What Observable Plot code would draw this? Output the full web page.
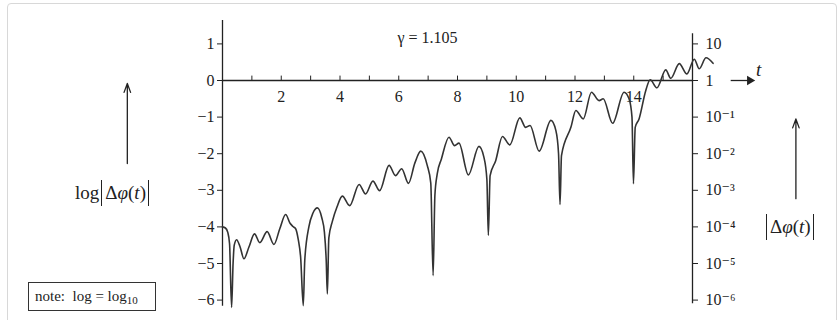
<!DOCTYPE html>
<html>
<head>
<meta charset="utf-8">
<script src="https://cdn.jsdelivr.net/npm/d3@7"></script>
<script src="https://cdn.jsdelivr.net/npm/@observablehq/plot@0.6"></script>
<style>
  html, body { margin: 0; padding: 0; background: #fff; }
  #wrap { position: relative; width: 840px; height: 320px; overflow: hidden; font-family: "Liberation Serif", "DejaVu Serif", serif; color: #222; }
  #card { position: absolute; left: 7px; top: 3px; right: 3px; bottom: -20px; border: 1px solid #d8d8d8; border-radius: 4px; }
  #chart { position: absolute; left: 0; top: 0; }
  #chart svg, #chart svg text { font-family: "Liberation Serif", "DejaVu Serif", serif !important; }
  .lbl { position: absolute; white-space: nowrap; font-size: 19px; line-height: 19px; }
  .bar { display: inline-block; width: 0; height: 26px; border-left: 1.3px solid #222; vertical-align: -7px; margin: 0 3px 0 2px; }
  #note { position: absolute; left: 28px; top: 282px; width: 126px; height: 27px; border: 1.5px solid #333; font-size: 15px; line-height: 27px; }
  #note span.t { position: absolute; left: 6px; top: 0; }
  sub { font-size: 11px; vertical-align: -3px; }
</style>
</head>
<body>
<div id="wrap">
  <div id="card"></div>
  <div id="chart"></div>
  <div class="lbl" style="left:75px; top:180px;">log<span class="bar"></span>Δ<i>φ</i>(<i>t</i>)<span class="bar"></span></div>
  <div class="lbl" style="left:764px; top:214px;"><span class="bar"></span>Δ<i>φ</i>(<i>t</i>)<span class="bar"></span></div>
  <div id="note"><span class="t">note:&nbsp; log = log<sub>10</sub></span></div>
</div>
<script>
// ---- data ----
const tValues = [
  0.00, 0.10, 0.18, 0.24, 0.31, 0.36, 0.40, 0.48, 0.60, 0.73,
  0.90, 1.09, 1.27, 1.52, 1.75, 1.95, 2.15, 2.30, 2.40, 2.49,
  2.58, 2.66, 2.75, 2.80, 2.94, 3.08, 3.23, 3.38, 3.47, 3.53,
  3.57, 3.62, 3.74, 3.90, 4.08, 4.33, 4.65, 4.87, 5.12, 5.35,
  5.67, 5.89, 6.10, 6.33, 6.55, 6.75, 6.97, 7.09, 7.17, 7.23,
  7.31, 7.45, 7.71, 7.90, 8.05, 8.37, 8.73, 8.90, 9.00, 9.05,
  9.11, 9.30, 9.53, 9.78, 10.12, 10.32, 10.47, 10.78, 11.18, 11.35,
  11.44, 11.49, 11.54, 11.86, 12.03, 12.28, 12.56, 12.82, 12.96, 13.28,
  13.67, 13.84, 13.94, 13.99, 14.05, 14.18, 14.41, 14.56, 14.79, 15.09,
  15.26, 15.55, 15.81, 16.06, 16.23, 16.46, 16.70
];
const logDeltaPhi = [
  -4.00, -4.03, -4.15, -4.46, -6.20, -5.00, -4.50, -4.35, -4.55, -4.87,
  -4.55, -4.19, -4.43, -4.13, -4.48, -4.05, -3.66, -3.90, -3.99, -4.05,
  -4.35, -4.83, -6.15, -4.92, -4.00, -3.62, -3.48, -3.75, -4.15, -4.90,
  -5.83, -4.30, -3.85, -3.45, -3.16, -3.42, -2.84, -3.10, -2.75, -3.01,
  -2.32, -2.60, -2.41, -2.81, -2.25, -1.93, -2.32, -2.80, -5.33, -3.14,
  -2.55, -2.15, -1.55, -1.78, -1.71, -2.58, -1.80, -2.10, -2.70, -4.23,
  -2.60, -2.19, -1.53, -1.76, -1.02, -1.28, -1.23, -1.93, -1.09, -1.37,
  -2.00, -3.39, -2.05, -1.28, -0.82, -1.05, -0.32, -0.55, -0.50, -1.17,
  -0.32, -0.50, -1.00, -2.82, -1.28, -1.05, -0.27, 0.02, -0.20, 0.29,
  0.06, 0.46, 0.18, 0.58, 0.32, 0.62, 0.47
];
const xMinorTicks = [1, 2, 3, 4, 5, 6, 7, 8, 9, 10, 11, 12, 13, 14, 15];
const xTickLabels = [2, 4, 6, 8, 10, 12, 14];
const yTicks = [-6, -5, -4, -3, -2, -1, 0, 1];
const rightTickLabels = ["10\u207B\u2076", "10\u207B\u2075", "10\u207B\u2074", "10\u207B\u00B3", "10\u207B\u00B2", "10\u207B\u00B9", "1", "10"];
const titleText = "\u03B3 = 1.105";

// annotation anchors (in data units)
const leftAxisSpan = [{y1: -6.17, y2: 1.64}];
const rightAxisSpan = [{y1: -6.10, y2: 1.28}];
const titleAnchor = [{t: 6.98, v: 1.17, text: titleText}];
const tAxisArrow = [{x1: 17.3, x2: 17.95, y: 0}];
const tLabel = [{t: 18.25, v: 0.30, text: "t"}];
const upArrows = [
  {x: -3.24, y1: -2.27, y2: -0.08},
  {x: 19.52, y1: -3.23, y2: -1.05}
];

const data = tValues.map((t, i) => ({t, v: logDeltaPhi[i]}));
const ink = "#222";
const serif = "Liberation Serif";

const chart = Plot.plot({
  width: 840,
  height: 320,
  marginLeft: 222,
  marginRight: 148,
  marginTop: 21.44,
  marginBottom: 11.25,
  style: "font-family: 'Liberation Serif', 'DejaVu Serif', serif; font-size: 15px; color: #222; background: transparent;",
  x: {domain: [0, 16], axis: null},
  y: {domain: [-6.25, 1.6], axis: null},
  marks: [
    // axis lines
    Plot.ruleX(leftAxisSpan, {x: 0, y1: "y1", y2: "y2", stroke: ink, strokeWidth: 1.3}),
    Plot.ruleX(rightAxisSpan, {x: 16, y1: "y1", y2: "y2", stroke: ink, strokeWidth: 1.3}),
    Plot.ruleY([0], {x1: 0, x2: 16, stroke: ink, strokeWidth: 1.3}),
    // x ticks (upwards) and labels
    Plot.ruleX(xMinorTicks, {x: d => d, y1: 0, y2: 0.12, stroke: ink, strokeWidth: 1}),
    Plot.text(xTickLabels, {x: d => d, y: 0, dy: 16, text: d => String(d), fontSize: 16, fontFamily: serif, fill: ink}),
    // left & right y axes
    Plot.axisY({anchor: "left", ticks: yTicks, tickSize: 5, tickPadding: 3, tickFormat: d => d < 0 ? "\u2212" + Math.abs(d) : String(d), fontSize: 16, fontFamily: serif, stroke: ink, color: ink}),
    Plot.axisY({anchor: "right", ticks: yTicks, tickSize: 5, tickPadding: 8, tickFormat: d => rightTickLabels[yTicks.indexOf(d)], fontSize: 16, fontFamily: serif, stroke: ink, color: ink}),
    // t-axis arrow
    Plot.link(tAxisArrow, {x1: "x1", x2: "x2", y1: "y", y2: "y", stroke: ink, strokeWidth: 1.3}),
    Plot.dot(tAxisArrow, {x: "x2", y: "y", symbol: "triangle2", rotate: 90, r: 4.5, fill: ink, stroke: "none"}),
    Plot.text(tLabel, {x: "t", y: "v", text: "text", fontSize: 19, fontStyle: "italic", fontFamily: serif, fill: ink}),
    // label arrows
    Plot.arrow(upArrows, {x1: "x", x2: "x", y1: "y1", y2: "y2", stroke: ink, strokeWidth: 1.3, headLength: 11, headAngle: 40}),
    // title
    Plot.text(titleAnchor, {x: "t", y: "v", text: "text", fontSize: 16, fontFamily: serif, fill: ink}),
    // the curve
    Plot.line(data, {x: "t", y: "v", curve: "monotone-x", stroke: "#333", strokeWidth: 1.6})
  ]
});
document.getElementById("chart").appendChild(chart);
</script>
</body>
</html>
